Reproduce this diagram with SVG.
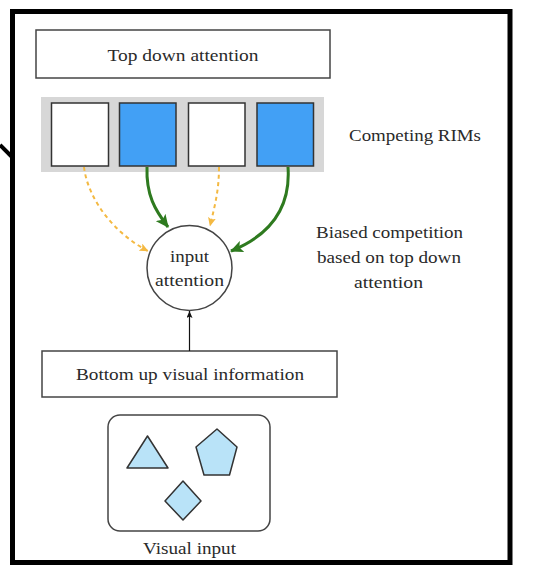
<svg xmlns="http://www.w3.org/2000/svg" width="543" height="578" viewBox="0 0 543 578">
<style>
text{font-family:"Liberation Serif","DejaVu Serif",serif;font-size:17.5px;fill:#2a2a2a;text-anchor:middle}
.box{fill:#fff;stroke:#444;stroke-width:1.5}
.rim{stroke:#333;stroke-width:1.5}
.shape{fill:#b9e3f8;stroke:#333;stroke-width:1.5;stroke-linejoin:round}
.green{fill:none;stroke:#2e7a1f;stroke-width:3}
.orange{fill:none;stroke:#f4b942;stroke-width:2;stroke-dasharray:4 3.5}
</style>
<defs>
<marker id="ag" viewBox="0 0 13 12" refX="12" refY="6" markerWidth="13" markerHeight="12" markerUnits="userSpaceOnUse" orient="auto"><path d="M0,0 L13,6 L0,12 L3,6 Z" fill="#2e7a1f"/></marker>
<marker id="ao" viewBox="0 0 9 8" refX="8.5" refY="4" markerWidth="9" markerHeight="8" markerUnits="userSpaceOnUse" orient="auto"><path d="M0,0 L9,4 L0,8 L2,4 Z" fill="#f4b942"/></marker>
<marker id="ak" viewBox="0 0 7 6" refX="7" refY="3" markerWidth="7" markerHeight="6" markerUnits="userSpaceOnUse" orient="auto"><path d="M0,0 L7,3 L0,6 L1.5,3 Z" fill="#111"/></marker>
</defs>
<rect x="0" y="0" width="543" height="578" fill="#fff"/>
<g id="frame">
<line x1="0" y1="145" x2="13" y2="158" stroke="#000" stroke-width="4"/>
<rect x="12.5" y="11.5" width="497.5" height="551" fill="#fff" stroke="#000" stroke-width="5"/>
</g>
<g id="top-down">
<rect class="box" x="36" y="30" width="294" height="48"/>
<text x="183" y="61" textLength="151" lengthAdjust="spacingAndGlyphs">Top down attention</text>
</g>
<g id="rims">
<rect x="41" y="97" width="283" height="75" fill="#d7d7d7"/>
<rect class="rim" x="51.5" y="103" width="57" height="63" fill="#fff"/>
<rect class="rim" x="119.5" y="103" width="56.5" height="63" fill="#42a0f5"/>
<rect class="rim" x="188.5" y="103" width="56.5" height="63" fill="#fff"/>
<rect class="rim" x="257" y="103" width="56.5" height="63" fill="#42a0f5"/>
</g>
<g id="label-rims"><text x="415" y="141" textLength="132" lengthAdjust="spacingAndGlyphs">Competing RIMs</text></g>
<g id="input-attention">
<circle cx="189.5" cy="268" r="42.5" fill="#fff" stroke="#444" stroke-width="1.5"/>
<text x="189.5" y="262" textLength="39" lengthAdjust="spacingAndGlyphs">input</text>
<text x="189.5" y="286" textLength="69" lengthAdjust="spacingAndGlyphs">attention</text>
</g>
<g id="label-biased">
<text x="389.5" y="238" textLength="147" lengthAdjust="spacingAndGlyphs">Biased competition</text>
<text x="389" y="263" textLength="144" lengthAdjust="spacingAndGlyphs">based on top down</text>
<text x="388.5" y="288" textLength="69" lengthAdjust="spacingAndGlyphs">attention</text>
</g>
<g id="bottom-up">
<rect class="box" x="42" y="351" width="295" height="46"/>
<text x="190" y="380" textLength="228" lengthAdjust="spacingAndGlyphs">Bottom up visual information</text>
</g>
<g id="visual-input">
<rect x="108" y="415" width="162" height="116" rx="12" fill="#fff" stroke="#444" stroke-width="1.5"/>
<polygon class="shape" points="127,468 168,468 147.5,436"/>
<polygon class="shape" points="217,429 237,447 229.5,475 204,475 196,447"/>
<polygon class="shape" points="183,481 201,501 183,520 165,501"/>
<text x="189.5" y="554" textLength="93" lengthAdjust="spacingAndGlyphs">Visual input</text>
</g>
<g id="connectors">
<path class="orange" d="M84,167 C88,200 115,234 148,251" marker-end="url(#ao)"/>
<path class="green" d="M147,167 C146,195 155,210 168,227" marker-end="url(#ag)"/>
<path class="orange" d="M219,167 C219,190 215,205 210,226" marker-end="url(#ao)"/>
<path class="green" d="M288,167 C291,210 268,236 231,251" marker-end="url(#ag)"/>
<line x1="189.5" y1="351" x2="189.5" y2="311" stroke="#111" stroke-width="1.2" marker-end="url(#ak)"/>
</g>
</svg>
